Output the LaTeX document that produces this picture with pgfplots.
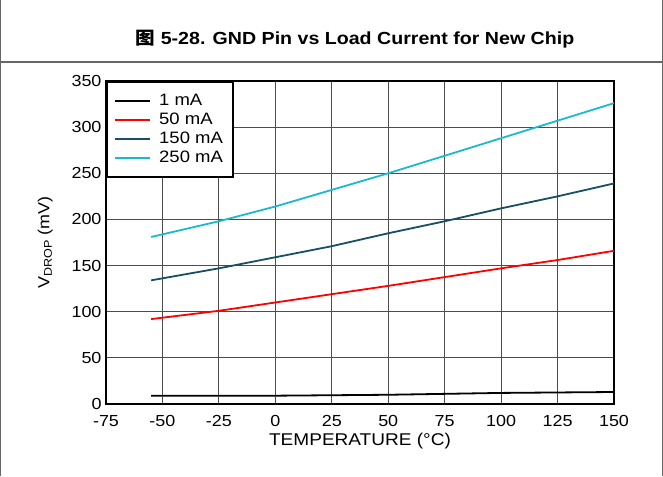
\documentclass[border=0pt]{standalone}
\usepackage{pgfplots}
\pgfplotsset{compat=1.18}
\usepackage{fontspec}
\setmainfont{Liberation Sans}[FakeStretch=1.12]
\newfontfamily\cjk{Noto Sans CJK SC}[FakeStretch=1.12]
\definecolor{cyanline}{RGB}{24,186,206}
\definecolor{tealline}{RGB}{22,80,98}
\definecolor{redline}{RGB}{255,0,0}
\begin{document}
\begin{tikzpicture}
\useasboundingbox (0pt,0pt) rectangle (663pt,476pt);
\draw[gray!80!black,line width=1.2pt] (0.6pt,0pt) -- (0.6pt,476pt);
\draw[gray!80!black,line width=1.2pt] (662.4pt,0pt) -- (662.4pt,476pt);
\draw[gray!80!black,line width=1.4pt] (0pt,414pt) -- (663pt,414pt);
\node[font=\fontsize{17.5}{20}\selectfont\bfseries] at (355pt,437pt) {{\cjk\bfseries 图} 5-28. GND Pin vs Load Current for New Chip};
\begin{axis}[
  at={(106pt,72pt)}, anchor=south west,
  scale only axis, width=508pt, height=323pt,
  xmin=-75, xmax=150, ymin=0, ymax=350,
  xtick={-75,-50,...,150}, ytick={0,50,...,350},
  grid=major,
  major grid style={line width=0.9pt, black!70},
  axis line style={line width=1.8pt, black},
  tick style={draw=none},
  ticklabel style={font=\fontsize{16}{18}\selectfont},
  /pgf/number format/assume math mode=true,
  xticklabel style={yshift=-8pt},
  yticklabel style={xshift=-1pt},
  xlabel={TEMPERATURE (\textdegree C)},
  ylabel={V\textsubscript{DROP} (mV)},
  xlabel style={font=\fontsize{17}{18}\selectfont, yshift=1pt},
  ylabel style={font=\fontsize{16}{18}\selectfont, yshift=12pt},
  legend style={at={(0,1)}, anchor=north west, draw=black, line width=1.8pt,
    font=\fontsize{16.5}{17}\selectfont, inner xsep=7.5pt, inner ysep=9.5pt, row sep=0pt,
    nodes={inner xsep=3pt, inner ysep=2pt, text height=12pt, text depth=3pt},
    /tikz/every odd column/.append style={column sep=5pt},
    legend cell align=left, fill=white},
  legend image code/.code={\draw[#1, line width=1.8pt] (0pt,0pt) -- (35pt,0pt);},
]
\addplot[black, line width=1.8pt] coordinates {(-55,9) (-25,9) (0,9) (25,9.5) (50,10) (75,11) (100,12) (125,12.5) (150,13)};
\addlegendentry{1 mA}
\addplot[redline, line width=1.8pt] coordinates {(-55,92) (-25,101) (0,110) (25,119) (50,128) (75,137.5) (100,147) (125,156) (150,166)};
\addlegendentry{50 mA}
\addplot[tealline, line width=1.8pt] coordinates {(-55,134) (-25,147) (0,159) (25,171) (50,185) (75,198) (100,212) (125,225) (150,239)};
\addlegendentry{150 mA}
\addplot[cyanline, line width=1.8pt] coordinates {(-55,181) (-25,198) (0,214) (25,232) (50,250) (75,269) (100,288) (125,307) (150,326)};
\addlegendentry{250 mA}
\end{axis}
\end{tikzpicture}
\end{document}
